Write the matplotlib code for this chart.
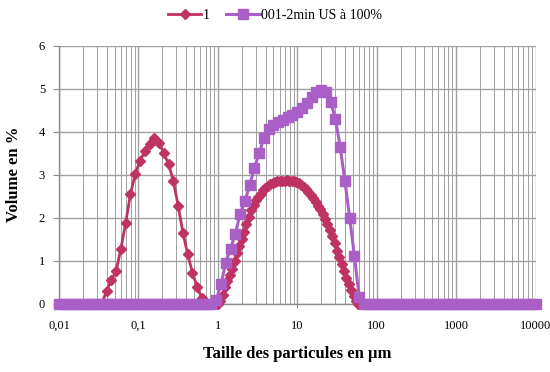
import numpy as np
import matplotlib
matplotlib.use("Agg")
import matplotlib.pyplot as plt
from matplotlib.ticker import FixedLocator, LogLocator, NullFormatter, FixedFormatter

plt.rcParams['font.family'] = ['Liberation Serif', 'DejaVu Serif']

# Instrument size classes (log-spaced bins, µm)
bins_coarse = 10 ** (-2 + 0.06 * np.arange(101))   # 0.01 .. 10000
bins_fine = 10 ** (0.03 * np.arange(60))            # 1 .. ~59

# Series "1" — first mode on coarse bins (0.01 .. ~0.95 µm)
red_vals_a = [0, 0, 0, 0, 0, 0, 0, 0, 0, 0,
              0.30, 0.55, 0.76, 1.28, 1.88, 2.55, 3.02, 3.32, 3.54, 3.71,
              3.86, 3.73, 3.50, 3.24, 2.85, 2.28, 1.65, 1.15, 0.72, 0.38,
              0.12, 0, 0, 0]
# Series "1" — second mode on fine bins (1 .. ~59 µm)
red_vals_b = [0.00, 0.05, 0.20, 0.38, 0.52, 0.66, 0.80, 0.99, 1.17, 1.34,
              1.49, 1.67, 1.84, 2.02, 2.17, 2.29, 2.40, 2.48, 2.56, 2.63,
              2.69, 2.74, 2.78, 2.81, 2.83, 2.84, 2.85, 2.86, 2.86, 2.87,
              2.86, 2.85, 2.84, 2.82, 2.80, 2.76, 2.71, 2.66, 2.60, 2.53,
              2.45, 2.37, 2.28, 2.19, 2.08, 1.97, 1.85, 1.71, 1.57, 1.40,
              1.23, 1.08, 0.92, 0.76, 0.60, 0.45, 0.32, 0.18, 0.05, 0.00]
# Series "1" — tail on coarse bins (~69 .. 10000 µm)
red_vals_c = [0] * 37

# Series "001-2min US à 100%" on coarse bins
purple_vals = ([0] * 33 +
               [0.08, 0.45, 0.95, 1.28, 1.62, 2.08, 2.38, 2.75, 3.15, 3.50,
                3.85, 4.05, 4.15, 4.22, 4.28, 4.33, 4.38, 4.45, 4.55, 4.67,
                4.80, 4.92, 4.97, 4.93, 4.70, 4.30, 3.65, 2.85, 2.00, 1.10,
                0.15] +
               [0] * 37)

x_tick_vals = [0.01, 0.1, 1, 10, 100, 1000, 10000]
x_tick_labels = ["0,01", "0,1", "1", "10", "100", "1000", "10000"]
y_tick_vals = [0, 1, 2, 3, 4, 5, 6]

red_x = np.concatenate([bins_coarse[:34], bins_fine, bins_coarse[64:]])
red_y = np.array(red_vals_a + red_vals_b + red_vals_c)

RED = '#BF3264'
PURPLE = '#A95FC6'
GRID = '#A0A0A0'

fig = plt.figure(figsize=(5.5, 3.72), dpi=100)
ax = fig.add_axes([59 / 550, 1 - 303.5 / 372, (535.5 - 59) / 550, (303.5 - 45.7) / 372])

ax.plot(red_x, red_y, color=RED, lw=2.0, marker='D', ms=5.2,
        label='1', clip_on=False, zorder=3)
ax.plot(bins_coarse, purple_vals, color=PURPLE, lw=2.2, marker='s', ms=6.8,
        label='001-2min US à 100%', clip_on=False, zorder=4)

ax.set_xscale('log')
ax.set_xlim(0.01, 10000)
ax.set_ylim(0, 6)

ax.xaxis.set_major_locator(FixedLocator(x_tick_vals))
ax.xaxis.set_major_formatter(FixedFormatter(x_tick_labels))
ax.xaxis.set_minor_locator(LogLocator(base=10, subs=np.arange(2, 10), numticks=20))
ax.xaxis.set_minor_formatter(NullFormatter())
ax.set_yticks(y_tick_vals)

ax.grid(True, which='major', axis='both', color=GRID, lw=1.0)
ax.grid(True, which='minor', axis='x', color=GRID, lw=0.7)
ax.set_axisbelow(True)

for s in ['top', 'right']:
    ax.spines[s].set_visible(False)
for s in ['left', 'bottom']:
    ax.spines[s].set_color('#8C8C8C')
    ax.spines[s].set_linewidth(1.0)

ax.tick_params(axis='y', which='major', length=4, color='#8C8C8C', labelsize=9, pad=6)
ax.tick_params(axis='x', which='major', length=3, color='#8C8C8C', labelsize=9, pad=9)
ax.tick_params(axis='x', which='minor', length=0)

ax.set_xlabel('Taille des particules en µm', fontsize=12, fontweight='bold', labelpad=10)
ax.set_ylabel('Volume en %', fontsize=12, fontweight='bold', labelpad=12)

fig.legend(loc='center', bbox_to_anchor=(0.5, 0.958), ncol=2, frameon=False,
           fontsize=10, handlelength=2.4, columnspacing=1.2, handletextpad=0.1)

fig.savefig('out.png', dpi=100)
